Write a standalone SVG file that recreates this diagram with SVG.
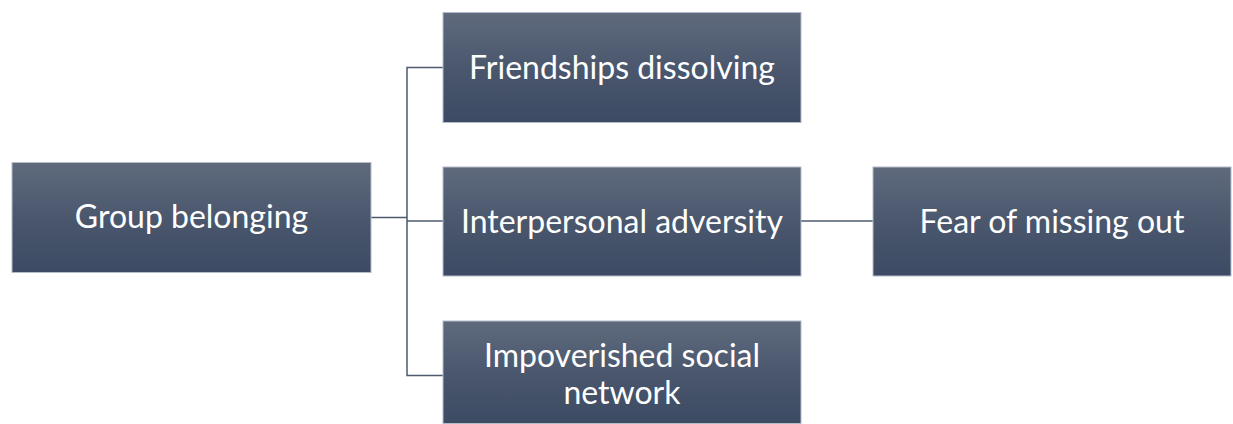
<svg xmlns="http://www.w3.org/2000/svg" width="1233" height="424" viewBox="0 0 1233 424">
<defs>
<linearGradient id="g" x1="0" y1="0" x2="0" y2="1">
<stop offset="0" stop-color="#5f6a7d"/>
<stop offset="0.5" stop-color="#4a576d"/>
<stop offset="1" stop-color="#3c4a63"/>
</linearGradient>
</defs>
<style>
.box{fill:url(#g);stroke:#b4bccb;stroke-width:1}
.lbl{font-family:Lato,"Liberation Sans",sans-serif;font-size:32px;fill:#ffffff;text-anchor:middle}
.con{fill:none;stroke:#4d5a6e;stroke-width:1.5}
</style>
<g id="connectors">
<polyline class="con" points="371,217.5 407,217.5"/>
<polyline class="con" points="443,67.5 407,67.5 407,375.5 443,375.5"/>
<polyline class="con" points="407,221 443,221"/>
<polyline class="con" points="801,221 873,221"/>
</g>
<g id="group-belonging">
<rect class="box" x="12" y="162.5" width="359" height="110"/>
<text class="lbl" x="191.5" y="228">Group belonging</text>
</g>
<g id="friendships-dissolving">
<rect class="box" x="443" y="12.5" width="358" height="110"/>
<text class="lbl" x="622" y="79">Friendships dissolving</text>
</g>
<g id="interpersonal-adversity">
<rect class="box" x="443" y="167" width="358" height="109"/>
<text class="lbl" x="622" y="233">Interpersonal adversity</text>
</g>
<g id="fear-of-missing-out">
<rect class="box" x="873" y="167" width="358" height="109"/>
<text class="lbl" x="1052" y="233">Fear of missing out</text>
</g>
<g id="impoverished-social-network">
<rect class="box" x="443" y="321" width="358" height="102.5"/>
<text class="lbl" x="622" y="367">Impoverished social</text>
<text class="lbl" x="622" y="404">network</text>
</g>
</svg>
